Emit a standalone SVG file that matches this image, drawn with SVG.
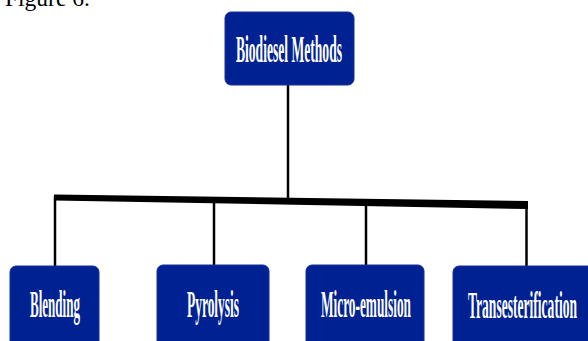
<svg xmlns="http://www.w3.org/2000/svg" width="588" height="341" viewBox="0 0 588 341">
<style>
.box{fill:#002191;stroke:#1a2f9a;stroke-width:1}
.lbl{fill:#ffffff;font-family:"Liberation Serif","Times New Roman",serif;font-weight:bold;font-size:37px;text-anchor:middle}
.conn{stroke:#000;stroke-width:2.5;fill:none}
.cap{font-family:"Liberation Serif","Times New Roman",serif;font-size:23.5px;fill:#000}
</style>
<rect width="588" height="341" fill="#ffffff"/>
<text class="cap" x="5" y="6">Figure 6.</text>
<g id="connectors">
<line class="conn" x1="288" y1="85" x2="288" y2="200"/>
<polygon points="54,194.5 528,201 528,209 54,200.5" fill="#000"/>
<line class="conn" x1="55" y1="196" x2="55" y2="266"/>
<line class="conn" x1="214" y1="199" x2="214" y2="266"/>
<line class="conn" x1="366" y1="202" x2="366" y2="266"/>
<line class="conn" x1="526.5" y1="204" x2="526.5" y2="266"/>
</g>
<g id="biodiesel-methods">
<rect class="box" x="225" y="12" width="129" height="73" rx="6"/>
<text class="lbl" x="289" y="62" textLength="106" lengthAdjust="spacingAndGlyphs">Biodiesel Methods</text>
</g>
<g id="blending">
<rect class="box" x="10" y="266" width="89" height="85" rx="6"/>
<text class="lbl" x="55" y="317" textLength="50" lengthAdjust="spacingAndGlyphs">Blending</text>
</g>
<g id="pyrolysis">
<rect class="box" x="157" y="265" width="112" height="85" rx="6"/>
<text class="lbl" x="213" y="317" textLength="52" lengthAdjust="spacingAndGlyphs">Pyrolysis</text>
</g>
<g id="micro-emulsion">
<rect class="box" x="306" y="265" width="118" height="85" rx="6"/>
<text class="lbl" x="366" y="317" textLength="90" lengthAdjust="spacingAndGlyphs">Micro-emulsion</text>
</g>
<g id="transesterification">
<rect class="box" x="453" y="266" width="150" height="85" rx="6"/>
<text class="lbl" x="522.5" y="318" textLength="109" lengthAdjust="spacingAndGlyphs">Transesterification</text>
</g>
</svg>
